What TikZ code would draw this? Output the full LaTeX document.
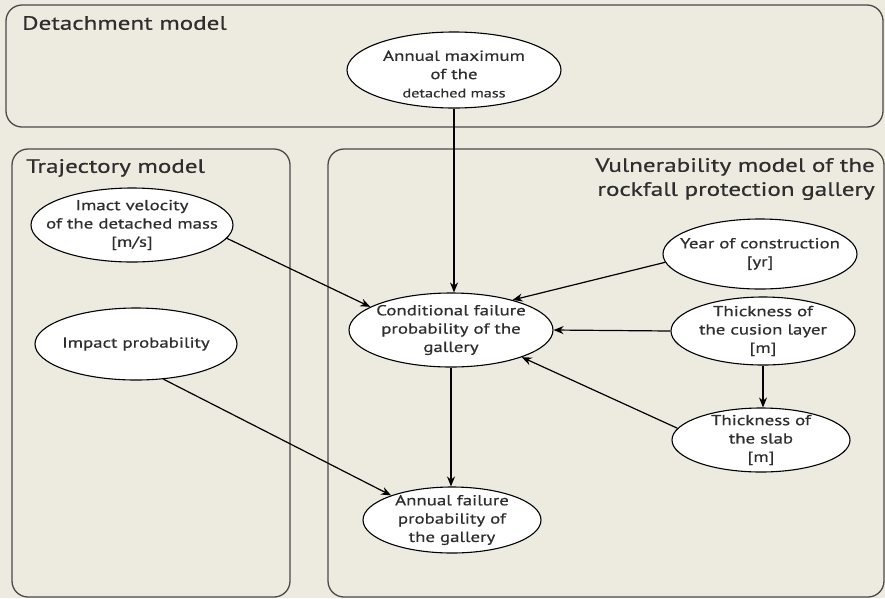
\documentclass[tikz,border=0pt]{standalone}
\usepackage{fontspec}
\setmainfont[FakeStretch=1.3,FakeBold=0.6]{PT Sans}
\usetikzlibrary{shapes.geometric,arrows.meta}
\definecolor{bg}{HTML}{EDEAE0}
\definecolor{frame}{HTML}{4A4A4A}
\definecolor{ink}{HTML}{2E2E2E}
\tikzset{
  panel/.style={draw=frame,line width=1.3pt,rounded corners=16pt},
  var/.style={ellipse,draw=black,line width=1.1pt,fill=white,inner sep=0pt},
  vtext/.style={inner sep=0pt,align=center,text=ink,font=\fontsize{14.5}{18.3}\selectfont},
  link/.style={line width=1.2pt,-{Stealth[length=10pt,width=8pt]}},
  ptitle/.style={font=\fontsize{19.3}{24}\selectfont,inner sep=0pt,text=ink}
}
\begin{document}
\begin{tikzpicture}[x=1pt,y=-1pt]
\fill[bg] (0,0) rectangle (885,598);
\useasboundingbox (0,0) rectangle (885,598);
% panels
\draw[panel] (6,5) rectangle (883,127);
\draw[panel] (12,149) rectangle (290,597);
\draw[panel] (328,149) rectangle (884,597);
\node[ptitle,anchor=west] (tdet) at (22,23) {Detachment model};
\node[ptitle,anchor=west] (ttraj) at (26,168) {Trajectory model};
\node[ptitle,anchor=east,align=right] (tvul) at (875,179) {Vulnerability model of the\\rockfall protection gallery};
% ellipses
\node[var,minimum width=214pt,minimum height=76pt] (amax) at (454,70) {};
\node[var,minimum width=202pt,minimum height=74pt] (vel) at (132,225) {};
\node[var,minimum width=202pt,minimum height=72pt] (imp) at (136,344) {};
\node[var,minimum width=204pt,minimum height=74pt] (cond) at (451,330) {};
\node[var,minimum width=178pt,minimum height=66pt] (ann) at (452,520) {};
\node[var,minimum width=194pt,minimum height=70pt] (year) at (760,254) {};
\node[var,minimum width=184pt,minimum height=68pt] (cush) at (763,331) {};
\node[var,minimum width=178pt,minimum height=64pt] (slab) at (761,440) {};
% texts
\node[vtext] (amaxt) at ([yshift=-4pt]amax.center) {Annual maximum\\of the\\{\fontsize{12.5}{16}\selectfont detached mass}};
\node[vtext] (velt) at (vel) {Imact velocity\\of the detached mass\\{[m/s]}};
\node[vtext] (impt) at (imp) {Impact probability};
\node[vtext] (condt) at (cond) {Conditional failure\\probability of the\\gallery};
\node[vtext] (annt) at (ann) {Annual failure\\probability of\\the gallery};
\node[vtext] (yeart) at (year) {Year of construction\\{[yr]}};
\node[vtext] (cusht) at (cush) {Thickness of\\the cusion layer\\{[m]}};
\node[vtext] (slabt) at (slab) {Thickness of\\the slab\\{[m]}};
% connectors
\draw[link] (amax.south) -- (amax.south |- cond.north);
\draw[link] (vel.-8) -- (cond.164);
\draw[link] (imp.-52) -- (ann.158);
\draw[link] (year.185) -- (cond.26);
\draw[link] (cush.west) -- (cond.east);
\draw[link] (slab.172) -- (cond.-21);
\draw[link] (cush.south) -- (cush.south |- slab.north);
\draw[link] (cond.south) -- (cond.south |- ann.north);
\end{tikzpicture}
\end{document}
